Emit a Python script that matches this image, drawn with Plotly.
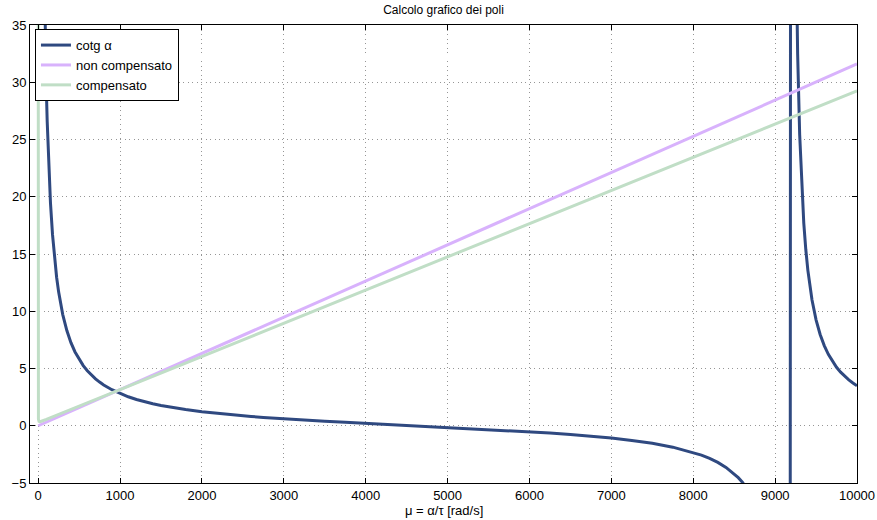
import plotly.graph_objects as go

# ---- data ----
mu_cotg = [10, 20, 30, 40, 50, 60, 70, 80, 90, 100, 110, 120, 130, 140, 150, 175, 200,
           225, 250, 275, 300, 350, 400, 450, 500, 550, 600, 650, 700, 750, 800, 900,
           1000, 1100, 1200, 1250, 1350, 1400, 1500, 1600, 1750, 1800, 2000, 2200,
           2250, 2400, 2500, 2600, 2750, 2800, 3000, 3250, 3500, 3750, 4000, 4250,
           4500, 4750, 5000, 5250, 5500, 5750, 6000, 6250, 6500, 6750, 7000, 7250,
           7500, 7750, 8000, 8100, 8200, 8250, 8300, 8400, 8500, 8550, 8600, 8650,
           8700, 8750, 9100, 9170,
           9200, 9250, 9260, 9275, 9300, 9325, 9350, 9375, 9400, 9450, 9500, 9550,
           9600, 9650, 9700, 9750, 9800, 9850, 9900, 9950, 10000]
cotg = [292.4, 146.2, 97.46, 73.09, 58.47, 48.72, 41.76, 36.54, 32.48, 29.23, 26.57,
        24.35, 22.48, 20.87, 19.47, 16.69, 14.60, 12.97, 11.67, 10.60, 9.71, 8.31,
        7.26, 6.445, 5.79, 5.253, 4.80, 4.424, 4.10, 3.812, 3.56, 3.145, 2.81, 2.531,
        2.298, 2.195, 2.010, 1.926, 1.775, 1.641, 1.466, 1.414, 1.226, 1.068, 1.032,
        0.932, 0.870, 0.811, 0.730, 0.704, 0.606, 0.495, 0.392, 0.296, 0.206, 0.118,
        0.032, -0.054, -0.140, -0.229, -0.321, -0.418, -0.522, -0.637, -0.761,
        -0.910, -1.074, -1.283, -1.532, -1.871, -2.33, -2.569, -2.857, -3.02, -3.202,
        -3.635, -4.19, -4.532, -4.93, -5.404, -5.97, -6.67, -34.4, -195.0,
        195.0, 44.97, 38.98, 32.48, 25.41, 20.87, 17.70, 15.37, 13.57, 11.00, 9.25,
        7.968, 7.00, 6.234, 5.62, 5.110, 4.68, 4.320, 4.01, 3.735, 3.49]

mu_non = [0, 10000]
non_comp = [0.0, 31.6]

mu_comp = [0.02, 0.03, 0.05, 0.1, 0.3, 1, 3, 10, 20, 40, 100, 1000, 5000, 10000]
comp = [50.0, 33.6, 20.25, 10.25, 3.58, 1.25, 0.59, 0.38, 0.36, 0.39, 0.55, 3.15,
        14.75, 29.25]

x_ticks = [0, 1000, 2000, 3000, 4000, 5000, 6000, 7000, 8000, 9000, 10000]
y_ticks = [-5, 0, 5, 10, 15, 20, 25, 30, 35]

FONT = "Liberation Sans, Arial, Helvetica, sans-serif"

fig = go.Figure()
fig.add_trace(go.Scatter(x=mu_cotg, y=cotg, mode="lines", name="cotg α",
                         line=dict(color="rgb(47,73,128)", width=3)))
fig.add_trace(go.Scatter(x=mu_non, y=non_comp, mode="lines", name="non compensato",
                         line=dict(color="rgb(216,178,252)", width=3)))
fig.add_trace(go.Scatter(x=mu_comp, y=comp, mode="lines", name="compensato",
                         line=dict(color="rgb(192,222,198)", width=3)))

axis_common = dict(
    showline=True, linecolor="black", linewidth=1, mirror="ticks",
    ticks="inside", ticklen=5, tickcolor="black", tickwidth=1,
    showgrid=True, gridcolor="rgb(150,150,150)", gridwidth=1, griddash="1px,3.5px",
    zeroline=False, automargin=False,
    tickfont=dict(family=FONT, size=13, color="black"),
)

fig.update_layout(
    width=877, height=520,
    margin=dict(l=30, r=20, t=25, b=37),
    paper_bgcolor="white", plot_bgcolor="white",
    font=dict(family=FONT, color="black"),
    title=dict(text="Calcolo grafico dei poli", x=0.5, xref="paper", y=1 - 10 / 520,
               yref="container", xanchor="center", yanchor="middle",
               font=dict(family=FONT, size=12, color="black")),
    xaxis=dict(range=[-100, 10000], tickvals=x_ticks,
               ticktext=[str(v) for v in x_ticks], **axis_common),
    yaxis=dict(range=[-5, 35], tickvals=y_ticks, **axis_common),
    legend=dict(x=0.006, y=0.991, xanchor="left", yanchor="top",
                bgcolor="white", bordercolor="black", borderwidth=1,
                font=dict(family=FONT, size=13, color="black"),
                tracegroupgap=0),
    showlegend=True,
)

fig.add_annotation(text="μ = α/τ [rad/s]", xref="paper", yref="paper",
                   x=0.5, y=0, yshift=-27, xanchor="center", yanchor="middle",
                   showarrow=False, font=dict(family=FONT, size=13, color="black"))

fig.write_html("out.html")
